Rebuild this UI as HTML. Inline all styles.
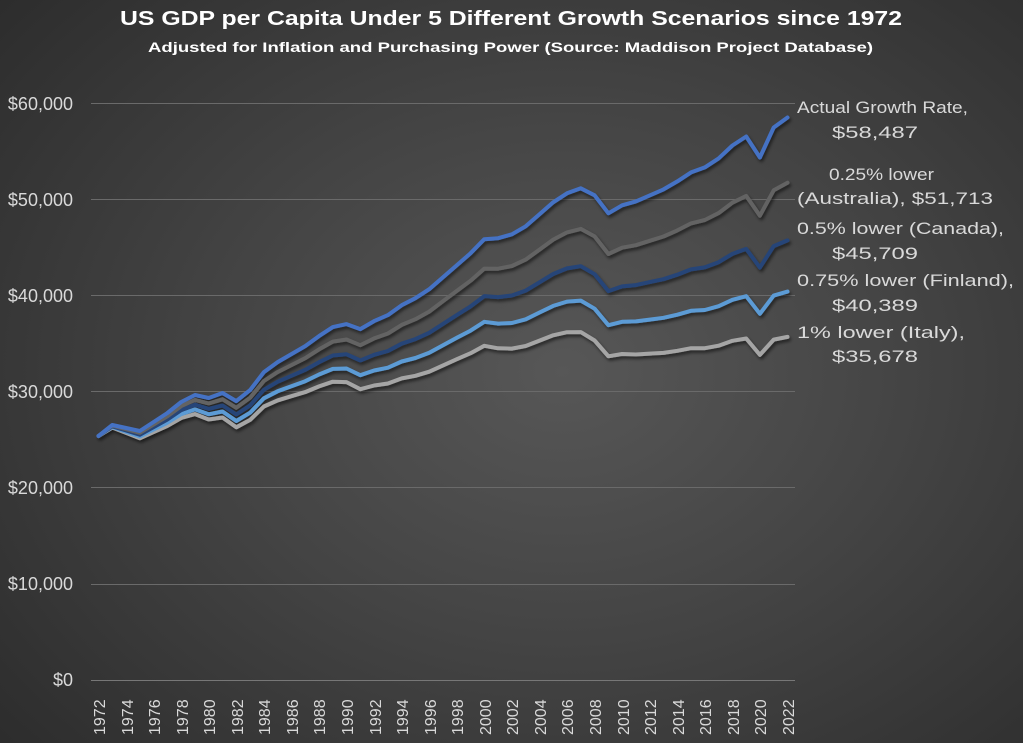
<!DOCTYPE html>
<html><head><meta charset="utf-8"><style>
html,body{margin:0;padding:0}
body{width:1023px;height:743px;overflow:hidden;background:radial-gradient(ellipse 75% 80% at 55% 50%,#575757 0%,#444 45%,#2b2b2b 100%);font-family:"Liberation Sans","DejaVu Sans",sans-serif}
svg{position:absolute;left:0;top:0}
</style></head><body>
<svg width="1023" height="743" viewBox="0 0 1023 743">
<defs><filter id="sh" x="-5%" y="-5%" width="110%" height="110%"><feDropShadow dx="1.5" dy="2.5" stdDeviation="1.5" flood-color="#000" flood-opacity="0.55"/></filter></defs>
<text x="120" y="25" fill="#fff" font-size="20" font-weight="bold" textLength="782" lengthAdjust="spacingAndGlyphs">US GDP per Capita Under 5 Different Growth Scenarios since 1972</text>
<text x="148" y="52" fill="#fff" font-size="14" font-weight="bold" textLength="725" lengthAdjust="spacingAndGlyphs">Adjusted for Inflation and Purchasing Power (Source: Maddison Project Database)</text>
<g stroke="#6a6a6a" stroke-width="1">
<line x1="91" x2="795" y1="103.5" y2="103.5"/><line x1="91" x2="795" y1="199.5" y2="199.5"/><line x1="91" x2="795" y1="295.5" y2="295.5"/><line x1="91" x2="795" y1="391.5" y2="391.5"/><line x1="91" x2="795" y1="487.5" y2="487.5"/><line x1="91" x2="795" y1="584.5" y2="584.5"/></g>
<line x1="91" x2="795" y1="680.5" y2="680.5" stroke="#777" stroke-width="1"/>
<g fill="#d9d9d9" font-size="18" text-anchor="end">
<text x="73" y="110">$60,000</text><text x="73" y="206">$50,000</text><text x="73" y="302">$40,000</text><text x="73" y="398">$30,000</text><text x="73" y="494">$20,000</text><text x="73" y="590">$10,000</text><text x="73" y="686">$0</text></g>
<g id="series" fill="none" stroke-width="4" stroke-linejoin="round" stroke-linecap="round" filter="url(#sh)"></g>
<g fill="#d9d9d9" font-size="17" lengthAdjust="spacingAndGlyphs">
<text x="797" y="113" textLength="171" lengthAdjust="spacingAndGlyphs">Actual Growth Rate,</text><text x="832" y="138" textLength="86" lengthAdjust="spacingAndGlyphs">$58,487</text>
<text x="829" y="180" textLength="105" lengthAdjust="spacingAndGlyphs">0.25% lower</text><text x="797" y="204" textLength="196" lengthAdjust="spacingAndGlyphs">(Australia), $51,713</text>
<text x="797" y="234" textLength="207" lengthAdjust="spacingAndGlyphs">0.5% lower (Canada),</text><text x="832" y="259" textLength="86" lengthAdjust="spacingAndGlyphs">$45,709</text>
<text x="797" y="286" textLength="217" lengthAdjust="spacingAndGlyphs">0.75% lower (Finland),</text><text x="832" y="311" textLength="86" lengthAdjust="spacingAndGlyphs">$40,389</text>
<text x="797" y="338" textLength="168" lengthAdjust="spacingAndGlyphs">1% lower (Italy),</text><text x="832" y="362" textLength="86" lengthAdjust="spacingAndGlyphs">$35,678</text></g>
<g fill="#d9d9d9" font-size="16">
<text transform="translate(105,735) rotate(-90)">1972</text><text transform="translate(133,735) rotate(-90)">1974</text><text transform="translate(160,735) rotate(-90)">1976</text><text transform="translate(188,735) rotate(-90)">1978</text><text transform="translate(215,735) rotate(-90)">1980</text><text transform="translate(243,735) rotate(-90)">1982</text><text transform="translate(270,735) rotate(-90)">1984</text><text transform="translate(298,735) rotate(-90)">1986</text><text transform="translate(325,735) rotate(-90)">1988</text><text transform="translate(353,735) rotate(-90)">1990</text><text transform="translate(381,735) rotate(-90)">1992</text><text transform="translate(408,735) rotate(-90)">1994</text><text transform="translate(436,735) rotate(-90)">1996</text><text transform="translate(463,735) rotate(-90)">1998</text><text transform="translate(491,735) rotate(-90)">2000</text><text transform="translate(518,735) rotate(-90)">2002</text><text transform="translate(546,735) rotate(-90)">2004</text><text transform="translate(573,735) rotate(-90)">2006</text><text transform="translate(601,735) rotate(-90)">2008</text><text transform="translate(629,735) rotate(-90)">2010</text><text transform="translate(656,735) rotate(-90)">2012</text><text transform="translate(684,735) rotate(-90)">2014</text><text transform="translate(711,735) rotate(-90)">2016</text><text transform="translate(739,735) rotate(-90)">2018</text><text transform="translate(766,735) rotate(-90)">2020</text><text transform="translate(794,735) rotate(-90)">2022</text></g>
</svg>
<script>
var ys=[436,425,428,431,422,413,402,395,398,393,401,390,372,362,354,346,336,327,324,329,321,315,305,298,289,277,265,253,239,238,234,226,214,202,193,188,195,213,205,201,195,189,181,172,167,158,145,136,157,127,117];
var vals=ys.map(function(y){return (680-y)/9.617;});
var ends=[58.487,51.713,45.709,40.389,35.678];
var cols=["#4472C4","#636363","#264478","#5B9BD5","#A5A5A5"];
var order=[4,3,2,1,0];
var g=document.getElementById('series');
order.forEach(function(k){
  var f=Math.pow(ends[k]/vals[50],1/50);
  var d='';
  for(var i=0;i<51;i++){
    var v=vals[i]*Math.pow(f,i);
    var x=98.5+i*13.78, y=680-v*9.617;
    d+=(i?'L':'M')+x.toFixed(1)+' '+y.toFixed(1);
  }
  var p=document.createElementNS('http://www.w3.org/2000/svg','path');
  p.setAttribute('d',d);p.setAttribute('stroke',cols[k]);
  g.appendChild(p);
});
</script>
</body></html>
